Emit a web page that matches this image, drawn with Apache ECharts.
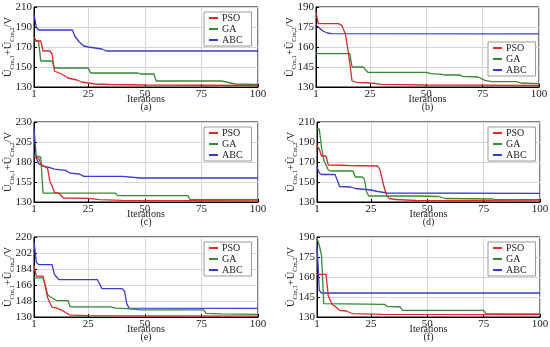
<!DOCTYPE html>
<html><head><meta charset="utf-8">
<script src="https://cdn.jsdelivr.net/npm/echarts@6/dist/echarts.min.js"></script>
<style>html,body{margin:0;padding:0;background:#fff}#c{width:550px;height:347px}</style>
</head><body><div id="c"></div>
<script>
const seriesNames = ['PSO', 'GA', 'ABC'];
const panelLabels = ['(a)', '(b)', '(c)', '(d)', '(e)', '(f)'];
const iterTicks = [1, 25, 50, 75, 100];
const yMins = [130, 130, 130, 130, 130, 130];
const yMaxs = [210, 190, 230, 210, 220, 190];
const ySteps = [20, 15, 25, 20, 18, 15];

// [iteration, value]
const psoA = [[1,180],[2,176],[4,176],[5,166],[8,166],[9,163],[10,146],[12,144],[14,142],[16,139],[18,138],[20,137],[22,135],[25,134],[28,133],[35,132.5],[50,132],[100,131.5]];
const gaA = [[1,176],[3,176],[4,156],[9,156],[10,149],[25,149],[26,144],[47,144],[48,143],[54,143],[55,136],[84,136],[86,135],[90,133],[100,132.5]];
const abcA = [[1,203],[2,190],[3,187],[18,187],[19,181],[21,175],[23,171],[25,170],[28,169],[31,168],[33,166],[100,166]];

const psoB = [[1,186],[2,177.5],[11,177.5],[12.5,176],[14,170],[15,160],[16,148],[17,134.5],[19,133.5],[25,133],[30,132],[50,131.5],[100,131.2]];
const gaB = [[1,155],[16,155],[17,145],[22,145],[24,141],[50,141],[52,140],[57,139.5],[58,139],[65,139],[66,138],[73,137.5],[76,135],[79,134],[90,134],[92,133],[100,132.5]];
const abcB = [[1,176.5],[2,175],[3,173.5],[4,172],[6,170.5],[8,170],[100,169.8]];

const psoC = [[1,186],[3,185],[4,178],[5,175],[6,174],[7,172],[8,156],[9,150],[10,142],[12,141],[14,135],[25,134.5],[30,133],[40,132],[100,131.5]];
const gaC = [[1,189],[3,187],[4,186],[5,141],[37,141],[38,138],[69,138],[70,133],[100,133]];
const abcC = [[1,222],[2,185],[3,178],[5,175],[8,173],[10,171],[15,169.5],[17,166],[21,165],[23,162],[40,162],[48,160],[100,160]];

const psoD = [[1,186],[2,183],[3,176],[5,176],[6,167],[15,166.5],[28,166],[29,162],[30,152],[31,143],[32,137],[33,133.5],[36,132.5],[45,131.5],[100,131.2]];
const gaD = [[1,203],[2,203],[3,185],[4,172],[5,167],[6,162],[7,161],[17,161],[18,155],[21,155],[22,153],[23,140],[24,136],[45,136],[55,135.5],[58,133.5],[79,133],[80,132.3],[100,132.3]];
const abcD = [[1,165],[2,159],[3,157.5],[9,157.5],[10,152],[11,145.5],[16,145],[18,143.5],[25,142],[28,140.5],[32,139],[100,138.6]];

const psoE = [[1,188],[2,176],[5,176],[6,164],[7,152],[8,146],[9,141],[11,140],[13,138],[15,135],[17,132],[25,131.5],[100,131]];
const gaE = [[1,174],[5,174],[6,166],[7,155],[8,153],[10,150],[11,148.5],[16,148.5],[17,141.5],[35,141.5],[37,140],[42,139.5],[48,138],[76,138],[77,134],[84,133.5],[100,133]];
const abcE = [[1,215],[2,192],[3,189],[9,189],[10,178],[11,175],[12,172],[29,172],[31,162],[40,162],[41,159],[42,145],[43,140],[100,139.8]];

const psoF = [[1,162],[5,162],[6,146],[7,142],[8,139],[9,138],[11,135],[14,134.5],[16,133],[17,132.5],[30,132],[100,131.8]];
const gaF = [[1,189],[2,184],[3,176],[4,140],[31,139.5],[32,138],[38,137.5],[39,135],[75,135],[76,132.5],[100,132.3]];
const abcF = [[1,183],[1.6,165],[2,150],[3,148],[100,148]];

const panelData = [
  [psoA, gaA, abcA], [psoB, gaB, abcB], [psoC, gaC, abcC],
  [psoD, gaD, abcD], [psoE, gaE, abcE], [psoF, gaF, abcF]
];

const colors = ['#e02a2a', '#358a35', '#3b3bcc'];
const FONT = 'Liberation Serif';
const grids = [
  {left: 34, top: 7}, {left: 316, top: 7},
  {left: 34, top: 122}, {left: 317, top: 122},
  {left: 34, top: 237}, {left: 317, top: 237}
];
const legendPos = [
  {left: 204, top: 12}, {left: 488, top: 42},
  {left: 204, top: 127}, {left: 488, top: 127},
  {left: 204, top: 242}, {left: 488, top: 242}
];

const chart = echarts.init(document.getElementById('c'), null, {renderer: 'canvas'});
const option = {
  animation: false,
  backgroundColor: '#fff',
  grid: [], xAxis: [], yAxis: [], series: [], legend: []
};
grids.forEach((g, i) => {
  option.grid.push({left: g.left, top: g.top, width: (i % 2 === 0 ? 224 : 223), height: 80,
    show: true, borderColor: '#000', borderWidth: 1, backgroundColor: 'transparent', outerBoundsMode: 'none'});
  option.xAxis.push({
    gridIndex: i, type: 'value', min: 1, max: 100,
    name: 'Iterations\n' + panelLabels[i], nameLocation: 'middle', nameGap: 8, nameMoveOverlap: false,
    nameTextStyle: {fontFamily: FONT, fontSize: 10, lineHeight: 8.5, color: '#222'},
    axisLine: {show: true, lineStyle: {color: '#000', width: 1}},
    axisTick: {show: true, inside: true, length: 3, customValues: iterTicks, lineStyle: {color: '#000'}},
    axisLabel: {customValues: iterTicks, fontFamily: FONT, fontSize: 11, color: '#222', margin: 2},
    splitLine: {show: true, lineStyle: {color: '#d6d6d6', width: 1}}
  });
  option.yAxis.push({
    gridIndex: i, type: 'value', min: yMins[i], max: yMaxs[i], interval: ySteps[i],
    name: '{u|Ū}{s|Cm,1}{u|+Ū}{s|Cm,2}{u|/V}', nameLocation: 'middle', nameRotate: 90, nameGap: 20,
    nameMoveOverlap: false,
    nameTextStyle: {fontFamily: FONT, color: '#222',
      rich: {u: {fontFamily: FONT, fontSize: 10.5, color: '#222', lineHeight: 12, verticalAlign: 'bottom'},
             s: {fontFamily: FONT, fontSize: 6.5, color: '#222', lineHeight: 12, verticalAlign: 'bottom', padding: [0,0,-2,0]}}},
    axisLine: {show: true, lineStyle: {color: '#000', width: 1}},
    axisTick: {show: true, inside: true, length: 3, lineStyle: {color: '#000'}},
    axisLabel: {fontFamily: FONT, fontSize: 11, color: '#222', margin: 2},
    splitLine: {show: true, lineStyle: {color: '#d6d6d6', width: 1}}
  });
  option.legend.push({
    left: legendPos[i].left, top: legendPos[i].top, orient: 'vertical',
    data: seriesNames.map(n => ({name: n, icon: 'rect'})),
    itemWidth: 9, itemHeight: 2, itemGap: 1,
    padding: [1, 9, 1, 5], borderColor: '#9a9a9a', borderWidth: 1, backgroundColor: '#fff',
    textStyle: {fontFamily: FONT, fontSize: 10, lineHeight: 10, color: '#222', padding: [0,0,0,-1]},
    selectedMode: false
  });
  panelData[i].forEach((d, k) => {
    option.series.push({
      name: seriesNames[k], type: 'line', xAxisIndex: i, yAxisIndex: i,
      data: d, showSymbol: false, symbol: 'none', clip: true,
      lineStyle: {color: colors[k], width: 1.3}, itemStyle: {color: colors[k]},
      z: 3 - k
    });
  });
});
chart.setOption(option);
</script>
</body></html>
